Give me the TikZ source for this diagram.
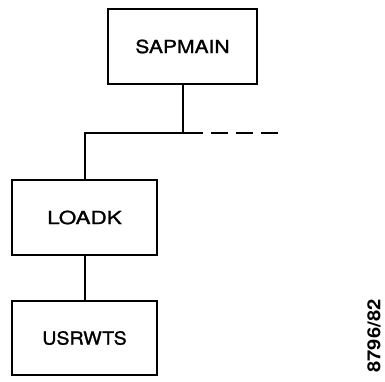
\documentclass[tikz,border=0pt]{standalone}
\usepackage{fontspec}
\setmainfont{TeX Gyre Heros}
\newfontfamily\labelfont{TeX Gyre Heros}[FakeBold=1.2]
\usepackage{graphicx}
\begin{document}
\begin{tikzpicture}[x=1pt,y=-1pt,
  box/.style={draw, line width=2pt, minimum width=145pt, minimum height=75pt, inner sep=0pt, font=\labelfont\fontsize{18}{20}\selectfont},
  conn/.style={line width=2pt}]
\useasboundingbox (0,0) rectangle (385,381);
\node[box, minimum width=149pt] (sap) at (182.5,46.5) {\scalebox{1.17}[1]{SAPMAIN}};
\node[box] (load) at (84.5,217.5) {\scalebox{1.25}[1]{LOADK}};
\node[box, minimum height=74pt] (usr) at (84.5,338) {\scalebox{1.09}[1]{USRWTS}};
\coordinate (j) at (182.5,133);
\coordinate (dashstart) at (203,133);
\coordinate (dashend) at (278,133);
\draw[conn] (sap.south) -- (j);
\draw[conn] (load.north) |- (j) -- (dashstart);
\draw[conn, dash pattern=on 17pt off 8pt, dash phase=17pt] (dashstart) -- (dashend);
\draw[conn] (load.south) -- (usr.north);
\node[rotate=90, inner sep=0pt, font=\bfseries\fontsize{18}{20}\selectfont] (num) at (374,336) {\scalebox{1.12}[1]{8796/82}};
\end{tikzpicture}
\end{document}
